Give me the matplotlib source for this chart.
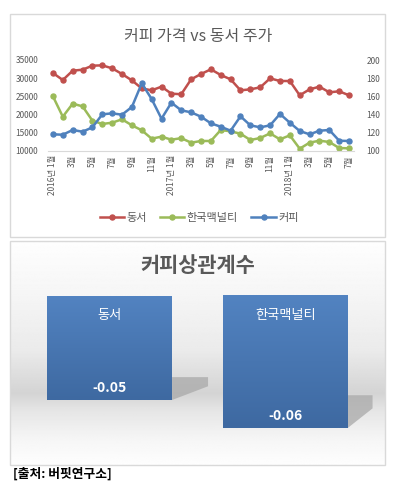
import numpy as np
import matplotlib
matplotlib.use("Agg")
import matplotlib.pyplot as plt
from matplotlib.patches import Rectangle, Polygon

plt.rcParams['font.family'] = ['Noto Sans CJK KR', 'DejaVu Sans']

# monthly data, 2016-01 .. 2018-07
month_labels = ['2016년 1월', '3월', '5월', '7월', '9월', '11월',
                '2017년 1월', '3월', '5월', '7월', '9월', '11월',
                '2018년 1월', '3월', '5월', '7월']
dongsuh = [31430, 29500, 32060, 32340, 33440, 33530, 32710, 31150, 29400, 27200,
           26670, 27670, 25750, 25600, 29690, 31150, 32440, 30880, 29690, 26670,
           26940, 27490, 29960, 29230, 29230, 25300, 26940, 27670, 26120, 26400, 25300]
mcnulty = [25020, 19430, 23000, 22270, 18330, 17420, 17780, 18700, 17060, 15690,
           13390, 13940, 13110, 13530, 12290, 12750, 12750, 15770, 15400, 14760,
           13020, 13570, 14850, 13200, 14300, 10640, 12290, 12840, 12470, 10820, 10730]
coffee = [118.3, 117.9, 123.1, 121.2, 126.0, 140.3, 141.4, 139.9, 148.4, 174.4,
          157.1, 135.5, 153.1, 144.7, 142.5, 137.7, 130.4, 126.7, 122.3, 138.1,
          128.2, 126.0, 128.2, 140.7, 131.1, 122.0, 118.3, 122.3, 123.1, 111.3, 111.0]

corr_names = ['동서', '한국맥널티']
corr_values = [-0.050, -0.0635]

W, H = 398, 483
fig = plt.figure(figsize=(W / 100, H / 100), dpi=100)


def box(x0, y0, x1, y1):
    # pixel box (top-left origin) -> figure fraction rect
    return [x0 / W, 1 - y1 / H, (x1 - x0) / W, (y1 - y0) / H]


gray_txt = '#595959'
# panel borders
for (x0, y0, x1, y1) in [(10, 14, 385, 237), (10, 241, 385, 465)]:
    fig.patches.append(Rectangle((x0 / W, 1 - y1 / H), (x1 - x0) / W, (y1 - y0) / H,
                                 transform=fig.transFigure, fill=False,
                                 edgecolor='#d9d9d9', linewidth=1.0, zorder=5))

# ---------- top line chart ----------
ax = fig.add_axes(box(48, 60, 354, 151))
ax2 = ax.twinx()
x = np.arange(len(dongsuh))
l1, = ax.plot(x, dongsuh, color='#c0504d', lw=1.8, marker='o', ms=3.6, label='동서')
l2, = ax.plot(x, mcnulty, color='#9bbb59', lw=1.8, marker='o', ms=3.6, label='한국맥널티')
l3, = ax2.plot(x, coffee, color='#4f81bd', lw=1.8, marker='o', ms=3.6, label='커피')
ax.set_xlim(-0.5, len(x) - 0.5)
ax.set_ylim(10000, 35000)
ax2.set_ylim(100, 200)
ax.set_yticks(range(10000, 35001, 5000))
ax2.set_yticks(range(100, 201, 20))
ax.set_xticks(range(0, len(x), 2))
ax.set_xticklabels(month_labels, rotation=90, fontsize=6, color=gray_txt)
for a in (ax, ax2):
    for s in a.spines.values():
        s.set_visible(False)
    a.tick_params(length=0, labelsize=6, labelcolor=gray_txt)
ax.spines['bottom'].set_visible(True)
ax.spines['bottom'].set_color('#d9d9d9')
ax.tick_params(axis='y', pad=7)
ax2.tick_params(axis='y', pad=9)
ax.tick_params(axis='x', pad=3)
ax.set_facecolor('none')

fig.text(198 / W, 1 - 36 / H, '커피 가격 vs 동서 주가', ha='center', va='center',
         fontsize=11.5, color=gray_txt)
fig.legend(handles=[l1, l2, l3], loc='center', bbox_to_anchor=(199 / W, 1 - 218 / H),
           ncol=3, frameon=False, fontsize=8, handlelength=2.2, columnspacing=1.2,
           handletextpad=0.2, labelcolor=gray_txt)

# ---------- bottom bar chart ----------
bx = fig.add_axes(box(10.5, 241.5, 384.5, 464.5))
px_per_unit = 2080.0
bx.axis('off')

# background gradient
rows = np.linspace(241.5, 464.5, 300)
shade = np.interp(rows, [241, 290, 350, 393, 410, 440, 465],
                  [0.995, 0.965, 0.92, 0.83, 0.90, 0.965, 0.995])
bg = np.repeat(shade[:, None], 2, axis=1)
bx.imshow(bg, cmap='gray', vmin=0, vmax=1, aspect='auto',
          extent=[0, 1, 0, 1], transform=bx.transAxes, zorder=0)

bars = bx.bar(range(len(corr_values)), corr_values, width=0.71, color='none', zorder=2)
shadow_style = [(0.205, 0.011), (0.142, 0.0158)]
top_c = np.array([0x52, 0x83, 0xc1]) / 255
bot_c = np.array([0x3e, 0x69, 0xa1]) / 255
for b, name, v, (dx, dy) in zip(bars, corr_names, corr_values, shadow_style):
    x0, w, h = b.get_x(), b.get_width(), b.get_height()
    x1 = x0 + w
    # skewed floor shadow
    bx.add_patch(Polygon([(x1, h + dy), (x1 + dx, h + dy), (x1 + dx, h + dy * 0.6), (x1, h)],
                         closed=True, facecolor='#a9a9a9', edgecolor='none', alpha=0.75, zorder=1))
    t = np.linspace(0, 1, 100)[:, None]
    grad = (top_c[None, :] * (1 - t) + bot_c[None, :] * t)[:, None, :]
    bx.imshow(grad, aspect='auto', extent=[x0, x1, h, 0], zorder=2)
    bx.text(b.get_x() + w / 2, -19 / px_per_unit, name, ha='center', va='center',
            color='white', fontsize=9.5)
    bx.text(b.get_x() + w / 2, h + 12 / px_per_unit, f'{v:.2f}', ha='center', va='center',
            color='white', fontsize=10, fontweight='bold')
bx.set_xlim(-0.565, 1.565)
bx.set_ylim(-(464.5 - 296) / px_per_unit, (296 - 241.5) / px_per_unit)

fig.text(198 / W, 1 - 266 / H, '커피상관계수', ha='center', va='center',
         fontsize=15, fontweight='bold', color=gray_txt)
fig.text(13 / W, 1 - 474 / H, '[출처: 버핏연구소]', ha='left', va='center',
         fontsize=9.2, fontweight='bold', color='black')

fig.savefig('out.png', dpi=100, facecolor='white')
